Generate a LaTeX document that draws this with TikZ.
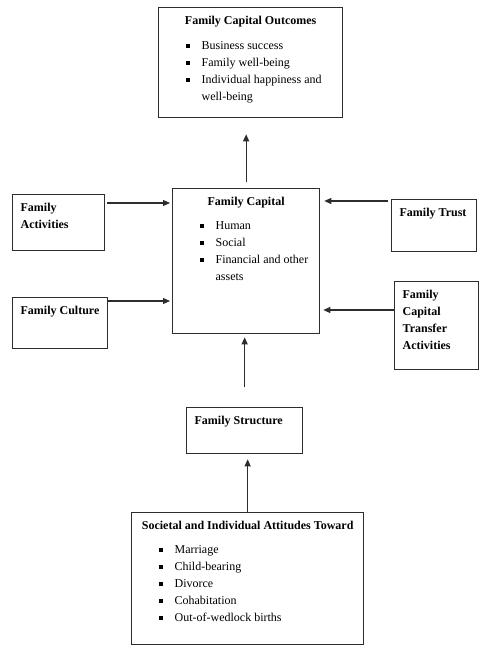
\documentclass[tikz,border=0pt]{standalone}
\usepackage{fontspec}
\setmainfont{Liberation Serif}
\usepackage{tikz}
\usetikzlibrary{arrows.meta,calc}
\definecolor{BoxGray}{RGB}{45,45,45}
% bullet item and continuation indent
\newcommand{\itm}{\hspace*{19pt}\rule[2pt]{4pt}{4pt}\hspace{12pt}}
\newcommand{\cont}{\hspace*{35pt}}

\begin{document}
\begin{tikzpicture}[x=1pt,y=-1pt,font=\fontsize{12}{17}\selectfont,
  box/.style={draw=BoxGray,line width=1.3pt,anchor=north west,inner xsep=8pt,inner ysep=9pt},
  arr/.style={draw=BoxGray,line width=1.1pt,-{Triangle[length=7pt,width=6pt]}}]
\useasboundingbox (0,0) rectangle (485,658);
% outcomes
\node[box] (outcomes) at (158,7) {\parbox[t][92pt][t]{168pt}{%
  {\centering\textbf{Family Capital Outcomes}\par}\vspace{8pt}
  \itm Business success\\
  \itm Family well-being\\
  \itm Individual happiness and\\
  \cont well-being}};
% family capital
\node[box] (capital) at (172,188) {\parbox[t][127pt][t]{131pt}{%
  {\centering\textbf{Family Capital}\par}\vspace{7pt}
  \itm Human\\
  \itm Social\\
  \itm Financial and other\\
  \cont assets}};
% left side
\node[box] (activities) at (12,194) {\parbox[t][38pt][t]{76pt}{\textbf{Family}\\\textbf{Activities}}};
\node[box] (culture) at (12,297) {\parbox[t][33pt][t]{79pt}{\textbf{Family Culture}}};
% right side
\node[box] (trust) at (391,199) {\parbox[t][34pt][t]{69pt}{\textbf{Family Trust}}};
\node[box] (transfer) at (394,281) {\parbox[t][70pt][t]{68pt}{\textbf{Family}\\\textbf{Capital}\\\textbf{Transfer}\\\textbf{Activities}}};
% bottom
\node[box] (structure) at (186,407) {\parbox[t][28pt][t]{100pt}{\textbf{Family Structure}}};
\node[box] (attitudes) at (131,512) {\parbox[t][114pt][t]{216pt}{%
  {\centering\textbf{Societal and Individual Attitudes Toward}\par}\vspace{7pt}
  \itm Marriage\\
  \itm Child-bearing\\
  \itm Divorce\\
  \itm Cohabitation\\
  \itm Out-of-wedlock births}};
% arrows
\draw[arr,shorten <=6pt,shorten >=16pt] (capital.north) -- (capital.north |- outcomes.south);
\draw[arr,shorten <=2pt,shorten >=2pt] ([yshift=-9pt]activities.north east) -- ([yshift=-9pt]activities.north east -| capital.west);
\draw[arr,shorten >=2pt] ([yshift=-4pt]culture.north east) -- ([yshift=-4pt]culture.north east -| capital.west);
\draw[arr,shorten <=3pt,shorten >=4pt] ([yshift=-2pt]trust.north west) -- ([yshift=-2pt]trust.north west -| capital.east);
\draw[arr,shorten >=3pt] ([yshift=-29pt]transfer.north west) -- ([yshift=-29pt]transfer.north west -| capital.east);
\draw[arr,shorten <=20pt,shorten >=3pt] (structure.north) -- (structure.north |- capital.south);
\draw[arr,shorten >=5pt] (attitudes.north) -- (attitudes.north |- structure.south);
\end{tikzpicture}
\end{document}
